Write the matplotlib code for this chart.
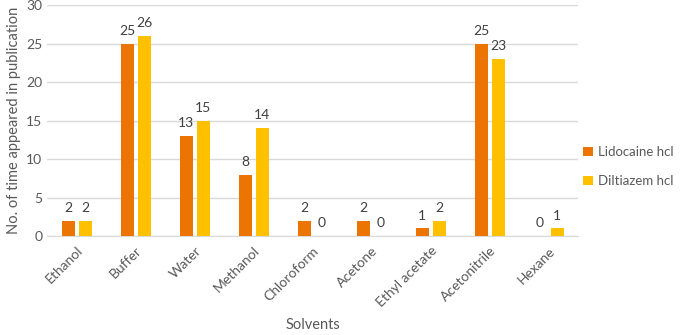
import numpy as np
import matplotlib.pyplot as plt

plt.rcParams['font.family'] = ['Lato', 'DejaVu Sans']

solvents = ["Ethanol", "Buffer", "Water", "Methanol", "Chloroform",
            "Acetone", "Ethyl acetate", "Acetonitrile", "Hexane"]
lidocaine = [2, 25, 13, 8, 2, 2, 1, 25, 0]
diltiazem = [2, 26, 15, 14, 0, 0, 2, 23, 1]

orange = '#EB7403'
yellow = '#FFC000'
grey = '#595959'

fig = plt.figure(figsize=(6.85, 3.35), dpi=100)
ax = fig.add_axes([0.069, 0.295, 0.775, 0.69])

x = np.arange(len(solvents))
w = 0.22
off = 0.145
b1 = ax.bar(x - off, lidocaine, w, color=orange, label='Lidocaine hcl', zorder=3)
b2 = ax.bar(x + off, diltiazem, w, color=yellow, label='Diltiazem hcl', zorder=3)

for bars, vals in ((b1, lidocaine), (b2, diltiazem)):
    for r, v in zip(bars, vals):
        ax.annotate(str(v), (r.get_x() + r.get_width() / 2, v),
                    xytext=(0, 5), textcoords='offset points',
                    ha='center', va='bottom', fontsize=10, color='#404040')

ax.set_xlim(-0.5, len(solvents) - 0.5)
ax.set_ylim(0, 30)
ax.set_yticks(range(0, 31, 5))
ax.yaxis.grid(True, color='#D9D9D9', linewidth=1, zorder=0)
ax.set_axisbelow(True)
for s in ['top', 'right', 'left']:
    ax.spines[s].set_visible(False)
ax.spines['bottom'].set_color('#D9D9D9')
ax.tick_params(axis='both', length=0, colors=grey, labelsize=10)
ax.tick_params(axis='x', pad=6)
ax.set_xticks(x)
ax.set_xticklabels(solvents, rotation=45, ha='right', rotation_mode='anchor')

ax.set_xlabel('Solvents', color=grey, fontsize=10.5, labelpad=6)
ax.set_ylabel('No. of time appeared in publication', color=grey, fontsize=10.5, labelpad=4)

ax.legend(loc='center left', bbox_to_anchor=(1.0, 0.30), frameon=False,
          borderaxespad=0, fontsize=9.5, labelcolor=grey,
          handlelength=0.7, handleheight=0.7,
          labelspacing=1.3, handletextpad=0.4)

fig.savefig('out.png', dpi=100)
